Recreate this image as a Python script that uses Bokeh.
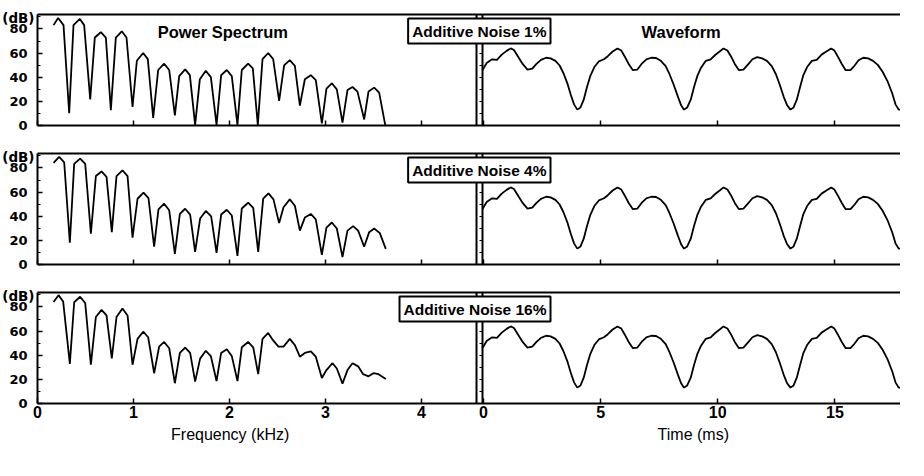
from bokeh.plotting import figure
from bokeh.models import (Range1d, LinearAxis, FixedTicker, Label,
                          CustomJSTickFormatter)
from bokeh.layouts import column
from bokeh.embed import file_html
from bokeh.resources import INLINE

# ------------------------------------------------------------------ data
NOISE_LABELS = ["Additive Noise 1%", "Additive Noise 4%", "Additive Noise 16%"]

# power spectrum, row 1 (1 % noise): frequency (kHz) / level (dB)
FREQ_1 = [0.167, 0.215, 0.271, 0.330, 0.375, 0.441, 0.486, 0.549, 0.597, 0.660,
          0.712, 0.764, 0.816, 0.878, 0.927, 0.990, 1.035, 1.101, 1.149, 1.205,
          1.257, 1.319, 1.372, 1.431, 1.476, 1.538, 1.587, 1.642, 1.691, 1.753,
          1.806, 1.865, 1.913, 1.972, 2.024, 2.083, 2.128, 2.194, 2.243, 2.295,
          2.344, 2.403, 2.455, 2.517, 2.569, 2.628, 2.681, 2.733, 2.785, 2.847,
          2.899, 2.962, 3.010, 3.066, 3.118, 3.177, 3.229, 3.281, 3.333, 3.403,
          3.448, 3.507, 3.559, 3.622]
DB_1 = [83.2, 89.1, 83.2, 10.1, 83.2, 88.3, 83.2, 21.7, 72.9, 77.3,
        72.9, 12.7, 72.9, 78.1, 72.9, 15.3, 53.7, 60.1, 55.0, 6.3,
        46.0, 51.2, 46.0, 8.3, 40.9, 46.5, 41.7, 0.5, 38.3, 45.3,
        40.1, 0.5, 41.7, 46.0, 40.9, 0.5, 46.0, 51.2, 47.3, 0.5,
        55.0, 60.1, 55.0, 20.4, 49.9, 54.2, 49.4, 16.5, 38.3, 41.7,
        37.6, 1.7, 30.6, 35.0, 29.9, 2.4, 29.4, 31.9, 28.1, 5.0,
        28.1, 31.4, 27.3, 0.5]

# row 2 (4 % noise)
FREQ_2 = [0.167, 0.226, 0.278, 0.337, 0.382, 0.444, 0.497, 0.556, 0.608, 0.667,
          0.719, 0.774, 0.823, 0.885, 0.938, 0.990, 1.042, 1.104, 1.156, 1.215,
          1.260, 1.319, 1.372, 1.431, 1.483, 1.538, 1.590, 1.642, 1.694, 1.753,
          1.809, 1.865, 1.913, 1.972, 2.024, 2.083, 2.128, 2.194, 2.247, 2.299,
          2.351, 2.406, 2.458, 2.517, 2.563, 2.628, 2.681, 2.733, 2.785, 2.847,
          2.899, 2.962, 3.010, 3.066, 3.118, 3.177, 3.229, 3.288, 3.340, 3.403,
          3.455, 3.507, 3.566, 3.628]
DB_2 = [84.2, 89.2, 84.7, 18.0, 83.4, 87.7, 83.4, 25.5, 73.3, 77.1,
        72.6, 26.8, 73.3, 78.1, 73.3, 22.3, 54.5, 59.5, 55.0, 14.7,
        45.7, 50.4, 44.9, 8.7, 41.9, 46.2, 41.4, 10.4, 38.1, 44.4,
        39.9, 9.7, 41.4, 45.4, 40.6, 7.2, 46.4, 51.2, 46.9, 10.4,
        54.5, 59.0, 54.0, 34.3, 47.4, 54.0, 48.7, 28.1, 38.9, 41.9,
        37.4, 7.9, 30.6, 34.8, 29.8, 6.2, 28.1, 31.8, 28.1, 14.7,
        26.8, 29.8, 26.0, 13.0]

# row 3 (16 % noise)
FREQ_3 = [0.167, 0.219, 0.267, 0.337, 0.382, 0.444, 0.497, 0.556, 0.608, 0.667,
          0.719, 0.774, 0.823, 0.885, 0.938, 0.990, 1.042, 1.101, 1.153, 1.215,
          1.267, 1.319, 1.372, 1.431, 1.483, 1.538, 1.590, 1.642, 1.694, 1.753,
          1.806, 1.865, 1.913, 1.972, 2.024, 2.083, 2.128, 2.194, 2.247, 2.299,
          2.344, 2.403, 2.455, 2.510, 2.563, 2.628, 2.681, 2.733, 2.785, 2.847,
          2.899, 2.962, 3.010, 3.073, 3.118, 3.177, 3.229, 3.281, 3.340, 3.392,
          3.448, 3.500, 3.552, 3.628]
DB_3 = [84.1, 89.8, 84.6, 32.8, 83.9, 88.5, 83.3, 32.1, 71.7, 77.6,
        73.0, 37.3, 71.7, 78.7, 73.0, 32.1, 53.6, 59.5, 54.9, 25.1,
        47.1, 51.0, 45.8, 16.8, 41.9, 46.3, 41.9, 18.1, 37.2, 43.7,
        39.3, 18.6, 41.9, 45.0, 39.3, 18.6, 46.6, 51.0, 46.6, 24.3,
        53.6, 58.5, 52.3, 47.1, 47.1, 53.6, 48.4, 38.8, 41.9, 43.2,
        38.8, 21.2, 27.7, 33.4, 29.0, 16.5, 27.7, 33.4, 30.8, 24.3,
        22.5, 25.1, 24.3, 20.4]

# waveform: time (ms) / relative amplitude
TIME_MS = [-0.04, 0.137, 0.370, 0.576, 0.782, 0.988, 1.166, 1.303, 1.468, 1.674,
           1.879, 2.085, 2.263, 2.455, 2.675, 2.867, 3.073, 3.251, 3.416, 3.594,
           3.731, 3.868, 4.005, 4.143, 4.280, 4.417, 4.554, 4.733, 4.925, 5.144,
           5.309, 5.514, 5.720, 5.885, 6.022, 6.200, 6.379, 6.571, 6.749, 6.955,
           7.160, 7.366, 7.572, 7.778, 7.942, 8.121, 8.299, 8.436, 8.560, 8.697,
           8.848, 8.985, 9.122, 9.287, 9.492, 9.698, 9.877, 10.082, 10.247, 10.412,
           10.562, 10.727, 10.905, 11.097, 11.276, 11.481, 11.687, 11.893, 12.099, 12.305,
           12.483, 12.647, 12.812, 12.963, 13.100, 13.237, 13.374, 13.512, 13.649, 13.813,
           14.019, 14.225, 14.431, 14.636, 14.842, 14.979, 15.117, 15.295, 15.460, 15.666,
           15.844, 16.008, 16.214, 16.420, 16.626, 16.831, 17.037, 17.243, 17.449, 17.586,
           17.723, 17.791]
WAVE = [-0.003, 0.126, 0.193, 0.182, 0.277, 0.345, 0.389, 0.361, 0.249, 0.109,
        0.008, 0.025, 0.109, 0.182, 0.221, 0.210, 0.165, 0.081, -0.059, -0.255,
        -0.451, -0.619, -0.714, -0.675, -0.535, -0.311, -0.115, 0.053, 0.154, 0.193,
        0.249, 0.333, 0.389, 0.350, 0.249, 0.109, -0.003, 0.008, 0.109, 0.193,
        0.221, 0.216, 0.165, 0.070, -0.076, -0.266, -0.479, -0.636, -0.714, -0.675,
        -0.535, -0.311, -0.115, 0.042, 0.165, 0.193, 0.266, 0.333, 0.389, 0.350,
        0.249, 0.109, -0.003, 0.008, 0.092, 0.193, 0.232, 0.210, 0.165, 0.070,
        -0.076, -0.266, -0.479, -0.636, -0.714, -0.675, -0.535, -0.311, -0.098, 0.053,
        0.165, 0.182, 0.277, 0.333, 0.389, 0.350, 0.249, 0.109, -0.003, -0.003,
        0.081, 0.176, 0.221, 0.210, 0.165, 0.092, -0.031, -0.199, -0.423, -0.619,
        -0.714, -0.714]

DB_TICKS = [0, 20, 40, 60, 80]
DB_MINOR_TICKS = [10, 30, 50, 70, 90]
WAVE_SIDE_TICKS = [10, 20, 30, 40, 50, 60, 70, 80]
FREQ_TICKS = [0, 1, 2, 3, 4]
TIME_TICKS = [0, 5, 10, 15]

# ------------------------------------------------------------------ geometry
FIG_W = 900                 # whole figure is the drawing frame
AXIS_PX = 37                # room left of the spectrum panel for tick labels
LEFT_PX, GAP_PX = 439, 6
RIGHT_PX = FIG_W - AXIS_PX - LEFT_PX - GAP_PX
FREQ_PANEL = (0.0, 4.573)
TIME_PANEL = (-0.04, 17.8)
DB_TOP = 92
WAVE_RANGE = (-1.0, 1.0)

KHZ_PER_PX = (FREQ_PANEL[1] - FREQ_PANEL[0]) / LEFT_PX
F_LO = FREQ_PANEL[0] - AXIS_PX * KHZ_PER_PX
F_HI = F_LO + FIG_W * KHZ_PER_PX
MS_PER_PX = (TIME_PANEL[1] - TIME_PANEL[0]) / RIGHT_PX
T_HI = TIME_PANEL[1]
T_LO = T_HI - FIG_W * MS_PER_PX


def time_to_f(t):
    return F_LO + (t - T_LO) / MS_PER_PX * KHZ_PER_PX


X_TICK_POS = list(FREQ_TICKS) + [time_to_f(t) for t in TIME_TICKS]

FONT = "Liberation Sans"


def make_row(freq, db, noise_text, top_px, panel_px, bottom_px, first=False, last=False):
    db_pp = DB_TOP / panel_px
    w_pp = (WAVE_RANGE[1] - WAVE_RANGE[0]) / panel_px
    p = figure(width=FIG_W, height=top_px + panel_px + bottom_px, title=None,
               x_range=Range1d(F_LO, F_HI),
               y_range=Range1d(-bottom_px * db_pp, DB_TOP + top_px * db_pp),
               output_backend="svg", toolbar_location=None,
               min_border=0, min_border_left=0, min_border_right=0,
               min_border_top=0, min_border_bottom=0)
    p.extra_x_ranges = {"time": Range1d(T_LO, T_HI)}
    p.extra_y_ranges = {"wave": Range1d(WAVE_RANGE[0] - bottom_px * w_pp,
                                        WAVE_RANGE[1] + top_px * w_pp)}
    p.xgrid.visible = False
    p.ygrid.visible = False
    p.outline_line_color = None
    p.background_fill_color = "white"
    p.border_fill_color = "white"

    ya = p.yaxis[0]
    ya.fixed_location = FREQ_PANEL[0]
    ya.bounds = (0, DB_TOP)
    ya.ticker = FixedTicker(ticks=DB_TICKS, minor_ticks=DB_MINOR_TICKS)
    ya.major_tick_in = 5
    ya.major_tick_out = 0
    ya.minor_tick_in = 3
    ya.minor_tick_out = 0
    ya.axis_line_width = 2
    ya.major_tick_line_width = 1.5
    ya.minor_tick_line_width = 1.2
    ya.major_label_text_font = "DejaVu Sans"
    ya.major_label_text_font_style = "bold"
    ya.major_label_text_font_size = "13px"
    ya.major_label_text_color = "black"
    ya.major_label_standoff = 10

    # short outward ticks on the left edge of the waveform panel
    wa = LinearAxis(fixed_location=time_to_f(TIME_PANEL[0]), bounds=(0, DB_TOP),
                    ticker=FixedTicker(ticks=WAVE_SIDE_TICKS), axis_line_color=None,
                    major_tick_in=0, major_tick_out=3, major_tick_line_width=1.2,
                    minor_tick_in=0, minor_tick_out=0,
                    formatter=CustomJSTickFormatter(code="return '';"),
                    major_label_text_font_size="0px", major_label_standoff=0)
    p.add_layout(wa, "left")

    xa = p.xaxis[0]
    xa.fixed_location = 0
    xa.bounds = (FREQ_PANEL[0], F_HI)
    xa.ticker = FixedTicker(ticks=X_TICK_POS)
    xa.major_tick_in = 5
    xa.major_tick_out = 0
    xa.minor_tick_in = 0
    xa.minor_tick_out = 0
    xa.axis_line_width = 2
    xa.major_tick_line_width = 1.5
    if last:
        xa.formatter = CustomJSTickFormatter(
            args=dict(fend=FREQ_PANEL[1], flo=F_LO, fhi=F_HI, tlo=T_LO, thi=T_HI),
            code="""
            if (tick <= fend + 1e-9) { return String(Math.round(tick)); }
            const t = tlo + (tick - flo) / (fhi - flo) * (thi - tlo);
            return String(Math.round(t));
            """)
        xa.major_label_text_font = FONT
        xa.major_label_text_font_style = "bold"
        xa.major_label_text_font_size = "16px"
        xa.major_label_text_color = "black"
        xa.major_label_standoff = 2
    else:
        xa.formatter = CustomJSTickFormatter(code="return '';")
        xa.major_label_text_font_size = "0px"
        xa.major_label_standoff = 0

    # top frame line
    top = LinearAxis(fixed_location=DB_TOP, bounds=(FREQ_PANEL[0], F_HI),
                     ticker=FixedTicker(ticks=[]), axis_line_width=2,
                     major_tick_in=0, major_tick_out=0,
                     minor_tick_in=0, minor_tick_out=0,
                     major_label_text_font_size="0px", major_label_standoff=0)
    p.add_layout(top, "above")

    # panel separators
    p.segment(x0=[FREQ_PANEL[1]], y0=[0], x1=[FREQ_PANEL[1]], y1=[DB_TOP],
              line_color="black", line_width=2)
    p.segment(x0=[TIME_PANEL[0]], y0=[WAVE_RANGE[0]], x1=[TIME_PANEL[0]],
              y1=[WAVE_RANGE[1]], x_range_name="time", y_range_name="wave",
              line_color="black", line_width=2)

    p.line(freq, db, line_color="black", line_width=1.8)
    p.line(TIME_MS, WAVE, x_range_name="time", y_range_name="wave",
           line_color="black", line_width=1.8)

    p.add_layout(Label(x=FREQ_PANEL[0], y=DB_TOP, x_offset=-3, y_offset=-3,
                       text="(dB)", text_align="right", text_baseline="alphabetic",
                       text_font="DejaVu Sans", text_font_style="bold",
                       text_font_size="13.5px", text_color="black"))

    if first:
        p.add_layout(Label(x=1.93, y=DB_TOP, y_offset=-17, text="Power Spectrum",
                           text_align="center", text_baseline="alphabetic",
                           text_font=FONT, text_font_style="bold",
                           text_font_size="16.5px", text_color="black"))
        p.add_layout(Label(x=8.44, y=DB_TOP, x_range_name="time", y_offset=-17,
                           text="Waveform", text_align="center",
                           text_baseline="alphabetic", text_font=FONT,
                           text_font_style="bold", text_font_size="16.5px",
                           text_color="black"))
    if last:
        p.add_layout(Label(x=2.03, y=0, y_offset=-31, text="Frequency  (kHz)",
                           text_align="center", text_baseline="alphabetic",
                           text_font=FONT, text_font_size="16px",
                           text_color="black"))
        p.add_layout(Label(x=9.05, y=0, x_range_name="time", y_offset=-31,
                           text="Time  (ms)", text_align="center",
                           text_baseline="alphabetic", text_font=FONT,
                           text_font_size="16px", text_color="black"))

    p.add_layout(Label(x=TIME_PANEL[0], y=DB_TOP, x_range_name="time",
                       x_offset=68, y_offset=-4, text=noise_text,
                       text_align="right", text_baseline="top",
                       text_font=FONT, text_font_style="bold",
                       text_font_size="15.5px", text_color="black",
                       padding=4, border_line_color="black",
                       border_line_width=2, background_fill_color="white"))
    return p


p1 = make_row(FREQ_1, DB_1, NOISE_LABELS[0], 14, 111, 14, first=True)
p2 = make_row(FREQ_2, DB_2, NOISE_LABELS[1], 14, 111, 14)
p3 = make_row(FREQ_3, DB_3, NOISE_LABELS[2], 14, 111, 50, last=True)

layout = column(p1, p2, p3)
open("out.html", "w").write(file_html(layout, INLINE))
